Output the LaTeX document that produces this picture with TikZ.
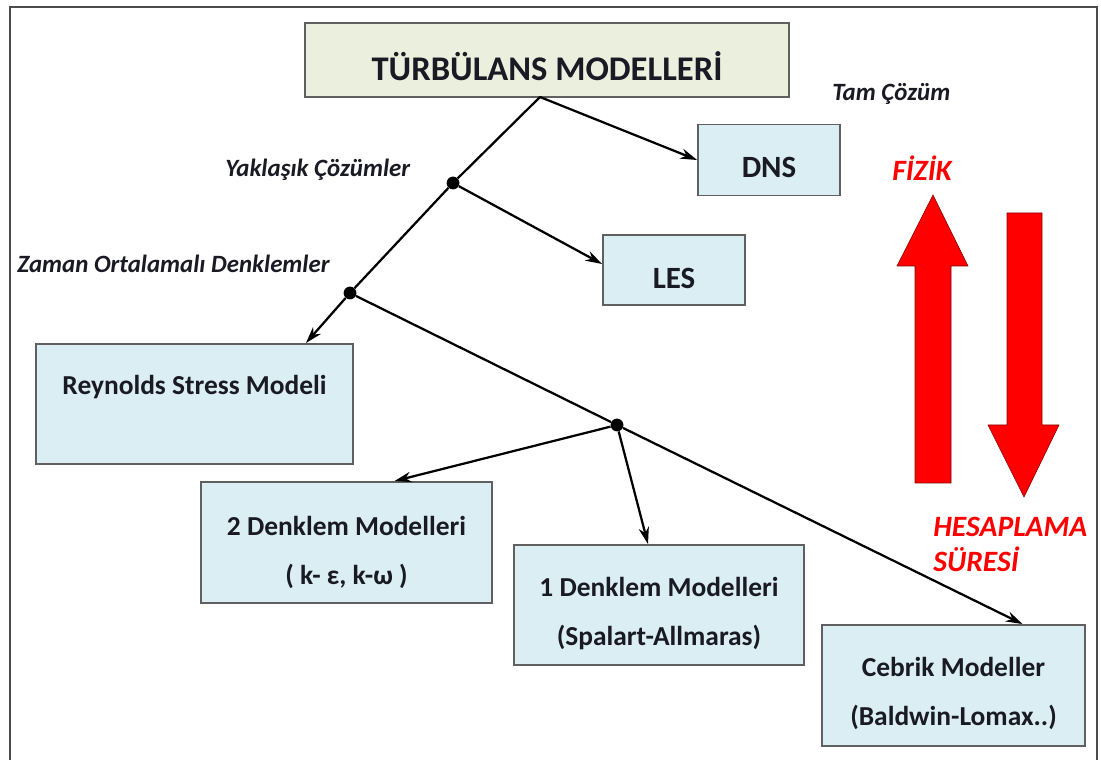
\documentclass[tikz,border=0pt]{standalone}
\usepackage{fontspec}
\setmainfont{Carlito}
\usetikzlibrary{calc}
\usetikzlibrary{arrows.meta, positioning}

\definecolor{kutumavi}{HTML}{DBEEF4}
\definecolor{baslikrenk}{HTML}{EBF0DE}
\definecolor{yazirenk}{HTML}{1A1A24}

\begin{document}
\begin{tikzpicture}[
    x=0.025cm, y=-0.025cm,
    every node/.style={font=\bfseries, text=yazirenk},
    kutu/.style={draw=gray!75!black, line width=1.3pt, fill=kutumavi, inner ysep=0pt},
    ikisatir/.style={kutu, align=center, font=\fontsize{19.5}{34.5}\selectfont\bfseries},
    aciklama/.style={font=\fontsize{17.7}{21}\selectfont\bfseries\itshape, inner sep=0pt},
    kirmizi/.style={font=\fontsize{21}{25}\selectfont\bfseries\itshape, text=red, inner sep=0pt},
    nokta/.style={circle, fill=black, inner sep=0pt, minimum size=0.32cm},
    hat/.style={line width=1.6pt},
    ok/.style={-{Stealth[length=4.2mm, width=2.6mm]}, line width=1.6pt}
]
\useasboundingbox (0,0) rectangle (1101,760);

% Çerçeve
\draw[gray!60!black, line width=1.5pt] (10,760) -- (10,7) -- (1097,7) -- (1097,760);

% Başlık
\node[kutu, fill=baslikrenk, minimum width=484*0.025cm, text height=1.45cm, text depth=0.4cm,
      font=\fontsize{24.6}{28}\selectfont\bfseries] (baslik) at (547,60) {TÜRBÜLANS MODELLERİ};

% Kutular
\node[kutu, minimum width=142*0.025cm, text height=1.325cm, text depth=0.45cm,
      font=\fontsize{22}{26}\selectfont\bfseries] (dns) at (769,160) {DNS};
\node[kutu, minimum width=142*0.025cm, text height=1.325cm, text depth=0.425cm,
      font=\fontsize{22}{26}\selectfont\bfseries] (les) at (674,270) {LES};
\node[kutu, minimum width=317*0.025cm, text height=1.275cm, text depth=1.725cm,
      font=\fontsize{19.5}{23}\selectfont\bfseries] (rsm) at (194.5,404) {Reynolds Stress Modeli};
\node[ikisatir, minimum width=291*0.025cm, text height=2.55cm, text depth=0.475cm] (iki) at (346.5,542.5)
    {2 Denklem Modelleri\\( k- ε, k-ω )};
\node[ikisatir, minimum width=290*0.025cm, text height=2.5cm, text depth=0.5cm] (bir) at (659,605)
    {1 Denklem Modelleri\\(Spalart-Allmaras)};
\node[ikisatir, minimum width=263*0.025cm, text height=2.5cm, text depth=0.525cm] (cebrik) at (953.5,685.5)
    {Cebrik Modeller\\(Baldwin-Lomax..)};

% Dallanma noktaları
\coordinate (kok) at (540,97);
\node[nokta] (n1) at (453,183) {};
\node[nokta] (n2) at (350,293) {};
\node[nokta] (n3) at (617,425) {};

% Bağlantılar
\draw[ok] (kok) -- (dns.west);
\draw[hat] (kok) -- (n1);
\draw[ok] (n1) -- ($(les.west)+(0,-6)$);
\draw[hat] (n1) -- (n2);
\draw[ok] (n2) -- ($(rsm.north east)+(-48,0)$);
\draw[hat] (n2) -- (n3);
\draw[ok] (n3) -- ($(iki.north)+(48,0)$);
\draw[ok] (n3) -- ($(bir.north)+(-11,0)$);
\draw[ok] (n3) -- ($(cebrik.north)+(69,0)$);

% Açıklamalar
\node[aciklama, anchor=base west] (tam) at (832,101) {Tam Çözüm};
\node[aciklama, anchor=base west] (yakl) at (225,177) {Yaklaşık Çözümler};
\node[aciklama, anchor=base west] (zaman) at (17,273) {Zaman Ortalamalı Denklemler};

% Fizik / hesaplama süresi
\fill[red, draw=red!50!black, line width=0.4pt]
    (915,483) -- (915,266) -- (897,266) -- (933,195) -- (968,266) -- (951,266) -- (951,483) -- cycle;
\fill[red, draw=red!50!black, line width=0.4pt]
    (1007,213) -- (1042,213) -- (1042,425) -- (1059,425) -- (1024,497) -- (988,425) -- (1007,425) -- cycle;
\node[kirmizi, anchor=base west] (fizik) at (892,181) {FİZİK};
\node[kirmizi, anchor=base west, align=left] (sure) at (933,572) {HESAPLAMA\\SÜRESİ};

\end{tikzpicture}
\end{document}
